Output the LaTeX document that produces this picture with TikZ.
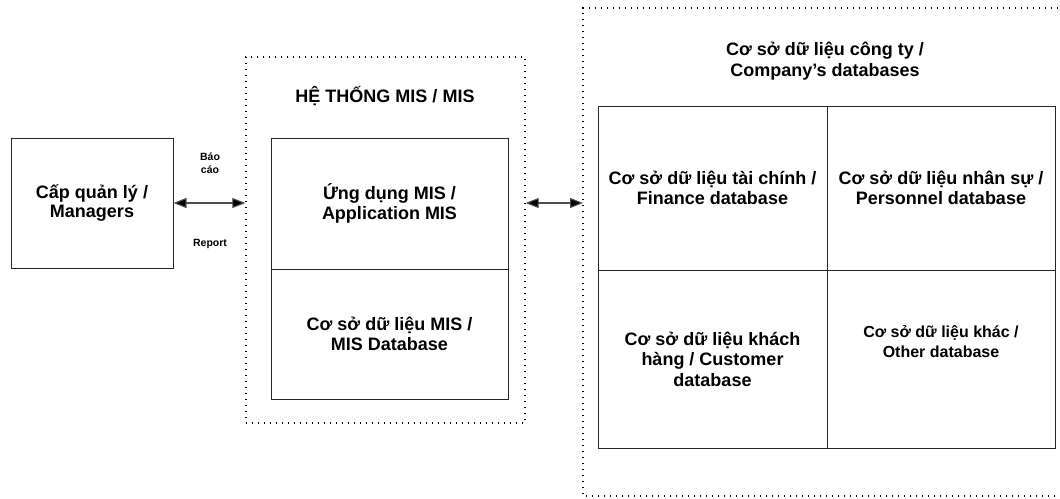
\documentclass[tikz,border=0pt]{standalone}
\usepackage{fontspec}
\setmainfont{Liberation Sans}
\usetikzlibrary{arrows.meta}
\tikzset{
  box/.style={draw=black!85, line width=1pt, inner sep=0pt, align=center, font=\bfseries\fontsize{18}{20.5}\selectfont},
  dotbox/.style={draw=black, line width=1.3pt, dash pattern=on 1.3pt off 4.7pt},
  lbl/.style={inner sep=0pt, align=center, font=\bfseries\fontsize{10.5}{13}\selectfont},
  ttl/.style={inner sep=0pt, align=center, font=\bfseries\fontsize{18}{21}\selectfont},
  link/.style={draw=black!70, line width=1.1pt, {Triangle[length=13pt,width=10pt,fill=black]}-{Triangle[length=13pt,width=10pt,fill=black]}}
}
\begin{document}
\begin{tikzpicture}[x=1pt,y=-1pt]
\useasboundingbox (0,0) rectangle (1060,498);
% Managers
\node[box, minimum width=162pt, minimum height=130pt, font=\bfseries\fontsize{18}{19}\selectfont] (mgr) at (92,203) {Cấp quản lý /\\Managers};
% MIS system
\node[dotbox, minimum width=279pt, minimum height=366pt, inner sep=0pt] (mis) at (385.5,240) {};
\node[ttl] (mistitle) at (385,96) {HỆ THỐNG MIS / MIS};
\node[box, minimum width=237pt, minimum height=131pt] (app) at (389.5,203.5) {Ứng dụng MIS /\\Application MIS};
\node[box, minimum width=237pt, minimum height=130pt] (misdb) at (389.5,334) {Cơ sở dữ liệu MIS /\\MIS Database};
% Company databases (right edge outside the picture)
\coordinate (ctr) at (1070,8);
\coordinate (cbr) at (1070,496);
\coordinate (ctl) at (583,8);
\coordinate (cbl) at (583,496);
\draw[dotbox] (ctr) -- (ctl) -- (cbl) -- (cbr);
\coordinate (cwest) at (583,203);
\node[ttl] (comptitle) at (825,61) {Cơ sở dữ liệu công ty /\\Company’s databases};
\node[box, minimum width=229pt, minimum height=164pt] (fin) at (712.5,188) {Cơ sở dữ liệu tài chính /\\Finance database};
\node[box, minimum width=228pt, minimum height=164pt] (per) at (941,188) {Cơ sở dữ liệu nhân sự /\\Personnel database};
\node[box, minimum width=229pt, minimum height=178pt] (cus) at (712.5,359) {Cơ sở dữ liệu khách\\hàng / Customer\\database};
\node[box, minimum width=228pt, minimum height=178pt] (oth) at (941,359) {};
\node[inner sep=0pt, align=center, font=\bfseries\fontsize{16}{20}\selectfont] (othtxt) at (941,342) {Cơ sở dữ liệu khác /\\Other database};
% Arrows
\draw[link] (mgr.east) -- (mis.west |- mgr.east);
\draw[link] (mis.east |- cwest) -- (cwest);
\node[lbl] (bao) at (210,163) {Báo\\cáo};
\node[lbl] (rep) at (210,244) {Report};
\end{tikzpicture}
\end{document}
